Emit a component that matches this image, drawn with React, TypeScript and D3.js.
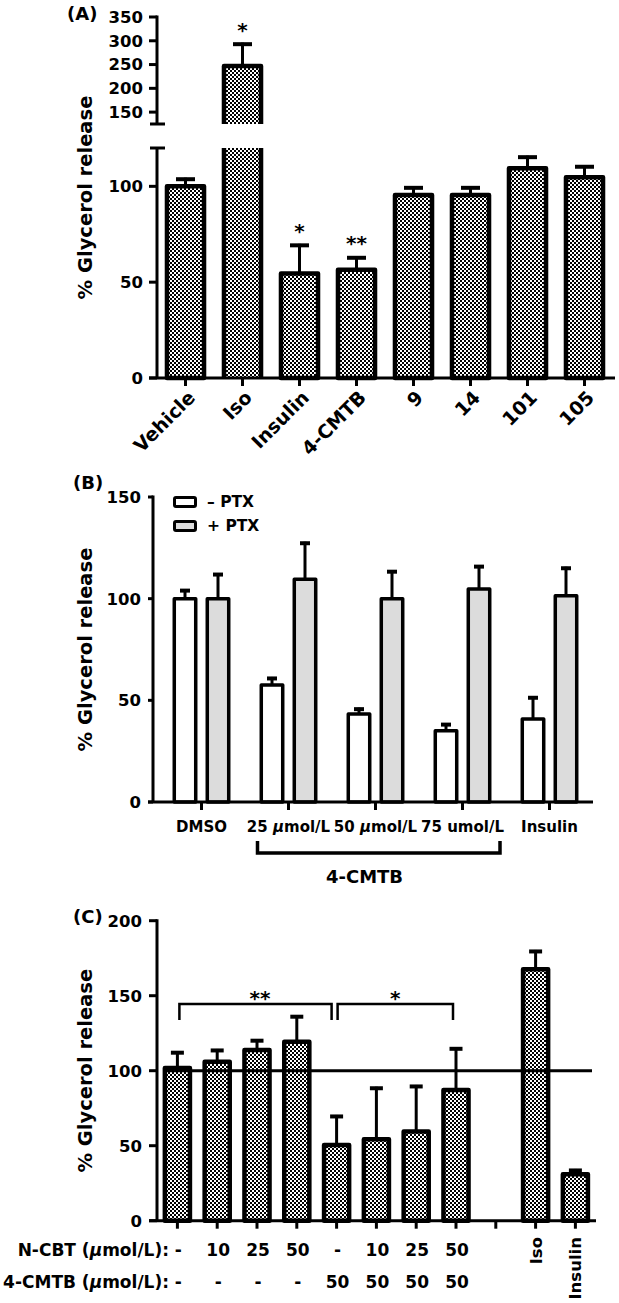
import * as d3 from "d3";

// ---- Panel A data ----
const catsA = ["Vehicle", "Iso", "Insulin", "4-CMTB", "9", "14", "101", "105"];
const meanA = [100, 247, 54.5, 56.5, 95.5, 95.5, 109.5, 104.7];
const semA = [4.5, 49, 15.5, 7, 4.5, 4.5, 6.5, 6.3];
const sigA = ["", "*", "*", "**", "", "", "", ""];
const ticksALow = [0, 50, 100];
const ticksAHigh = [150, 200, 250, 300, 350];

// ---- Panel B data ----
const groupsB = ["DMSO", "25 \u03bcmol/L", "50 \u03bcmol/L", "75 umol/L", "Insulin"];
const seriesB = ["\u2013 PTX", "+ PTX"];
const minusPTX = [100, 57.5, 43.3, 35, 40.8];
const minusErr = [4.7, 4, 3.1, 3.8, 11.2];
const plusPTX = [100, 109.6, 100, 104.7, 101.4];
const plusErr = [12.6, 18.4, 14, 11.8, 14.3];
const ticksB = [0, 50, 100, 150];

// ---- Panel C data ----
const slotsC = ["c1", "c2", "c3", "c4", "c5", "c6", "c7", "c8", "gap", "iso", "ins"];
const ncbtC = ["-", "10", "25", "50", "-", "10", "25", "50", "", "", ""];
const cmtbC = ["-", "-", "-", "-", "50", "50", "50", "50", "", "", ""];
const vertC = ["", "", "", "", "", "", "", "", "", "Iso", "Insulin"];
const meanC = [101.8, 106, 113.8, 119.3, 50.5, 54.3, 59.4, 87.1, null, 167.6, 30.9];
const semC = [11.2, 8.5, 7.2, 17.7, 20, 35, 31.1, 28.5, null, 12.9, 3.6];
const ticksC = [0, 50, 100, 150, 200];

const FONT = "'DejaVu Sans', Verdana, sans-serif";

const ErrBar = ({ x, y0, y1, w, sw = 3 }) => (
  <g stroke="#000">
    <line x1={x} x2={x} y1={y0} y2={y1} strokeWidth={sw} />
    <line x1={x - w / 2} x2={x + w / 2} y1={y1 + 1.5} y2={y1 + 1.5} strokeWidth={4} />
  </g>
);

const YLabel = ({ cy }) => (
  <text
    transform={`translate(92,${cy}) rotate(-90)`}
    textAnchor="middle"
    fontSize={19.5}
    fontWeight="bold"
  >
    % Glycerol release
  </text>
);

export default function App() {
  // Panel A scales (broken axis)
  const xA = d3.scaleBand().domain(catsA).range([157, 613]).paddingInner(0.35).paddingOuter(0.175);
  const yLo = d3.scaleLinear().domain([0, 120]).range([378, 148]);
  const yHi = d3.scaleLinear().domain([125, 350]).range([124, 17]);
  const bwA = xA.bandwidth();

  // Panel B scales
  const xB = d3.scaleBand().domain(groupsB).range([158, 593]);
  const xSub = d3.scaleBand().domain(seriesB).range([-33, 33]).paddingInner(0.35).paddingOuter(0.175);
  const yB = d3.scaleLinear().domain([0, 150]).range([802, 497]);
  const bwB = xSub.bandwidth();

  // Panel C scales
  const xC = d3.scaleBand().domain(slotsC).range([157.5, 595.3]).paddingInner(0.37).paddingOuter(0.185);
  const yC = d3.scaleLinear().domain([0, 200]).range([1220.7, 920.7]);
  const bwC = xC.bandwidth();
  const cC = (i) => xC(slotsC[i]) + bwC / 2;

  return (
    <svg
      width={619}
      height={1303}
      style={{ position: "absolute", left: 0, top: 0, background: "#fff" }}
      fontFamily={FONT}
    >
      <defs>
        <pattern id="chk" width={4} height={4} patternUnits="userSpaceOnUse">
          <rect width={4} height={4} fill="#fff" />
          <rect width={2} height={2} fill="#000" />
          <rect x={2} y={2} width={2} height={2} fill="#000" />
        </pattern>
      </defs>
      <rect width={619} height={1303} fill="#fff" />

      {/* ================= Panel A ================= */}
      <text x={67} y={20} fontSize={18} fontWeight="bold">(A)</text>
      <YLabel cy={197.5} />
      {catsA.map((c, i) => {
        const x0 = xA(c);
        const cx = x0 + bwA / 2;
        const v = meanA[i];
        const top = v + semA[i];
        if (v > 120) {
          const yt = yHi(v);
          return (
            <g key={c}>
              <rect x={x0} y={yLo(120)} width={bwA} height={yLo(0) - yLo(120)} fill="url(#chk)" />
              <path d={`M${x0},${yLo(120)}V${yLo(0)}M${x0 + bwA},${yLo(120)}V${yLo(0)}`} stroke="#000" strokeWidth={4.5} fill="none" />
              <rect x={x0} y={yt} width={bwA} height={yHi(125) - yt} fill="url(#chk)" />
              <path d={`M${x0},${yHi(125)}V${yt}H${x0 + bwA}V${yHi(125)}`} stroke="#000" strokeWidth={4.5} fill="none" strokeLinejoin="round" />
              <ErrBar x={cx} y0={yt} y1={yHi(top)} w={19} />
              <text x={cx} y={yHi(top) - 6} textAnchor="middle" fontSize={20} fontWeight="bold">{sigA[i]}</text>
            </g>
          );
        }
        return (
          <g key={c}>
            <ErrBar x={cx} y0={yLo(v)} y1={yLo(top)} w={19} />
            <rect x={x0} y={yLo(v)} width={bwA} height={yLo(0) - yLo(v)} fill="url(#chk)" stroke="#000" strokeWidth={4.5} strokeLinejoin="round" />
            {sigA[i] && (
              <text x={cx} y={yLo(top) - 6} textAnchor="middle" fontSize={20} fontWeight="bold">{sigA[i]}</text>
            )}
          </g>
        );
      })}
      {/* A axes */}
      <g stroke="#000" strokeWidth={3}>
        <line x1={157} x2={157} y1={yHi(350) - 1.5} y2={yHi(125)} />
        <line x1={150} x2={165} y1={yHi(125)} y2={yHi(125)} />
        <line x1={157} x2={157} y1={yLo(120)} y2={yLo(0)} />
        <line x1={150} x2={165} y1={yLo(120)} y2={yLo(120)} />
        <line x1={149} x2={615} y1={yLo(0)} y2={yLo(0)} />
        {ticksAHigh.map((t) => (
          <line key={"h" + t} x1={149} x2={157} y1={yHi(t)} y2={yHi(t)} />
        ))}
        {ticksALow.map((t) => (
          <line key={"l" + t} x1={149} x2={157} y1={yLo(t)} y2={yLo(t)} />
        ))}
        {catsA.map((c) => (
          <line key={c} x1={xA(c) + bwA / 2} x2={xA(c) + bwA / 2} y1={yLo(0)} y2={yLo(0) + 8} />
        ))}
      </g>
      <g fontSize={16.5} fontWeight="bold" textAnchor="end">
        {ticksAHigh.map((t) => (
          <text key={t} x={143} y={yHi(t)} dy="0.36em">{t}</text>
        ))}
        {ticksALow.map((t) => (
          <text key={t} x={143} y={yLo(t)} dy="0.36em">{t}</text>
        ))}
      </g>
      <g fontSize={19} fontWeight="bold">
        {catsA.map((c) => (
          <text
            key={c}
            transform={`translate(${xA(c) + bwA / 2 + 6},${yLo(0) + 16}) rotate(-45)`}
            textAnchor="end"
            dy="0.36em"
          >
            {c}
          </text>
        ))}
      </g>

      {/* ================= Panel B ================= */}
      <text x={73} y={489} fontSize={18} fontWeight="bold">(B)</text>
      <YLabel cy={649.5} />
      {groupsB.map((g, i) => {
        const gc = xB(g) + xB.bandwidth() / 2;
        const vals = [minusPTX[i], plusPTX[i]];
        const errs = [minusErr[i], plusErr[i]];
        return (
          <g key={g}>
            {seriesB.map((s, j) => {
              const x0 = gc + xSub(s);
              const cx = x0 + bwB / 2;
              return (
                <g key={s}>
                  <ErrBar x={cx} y0={yB(vals[j])} y1={yB(vals[j] + errs[j])} w={10} />
                  <rect
                    x={x0}
                    y={yB(vals[j])}
                    width={bwB}
                    height={yB(0) - yB(vals[j])}
                    fill={j === 0 ? "#fff" : "#dcdcdc"}
                    stroke="#000"
                    strokeWidth={3.5}
                    strokeLinejoin="round"
                  />
                </g>
              );
            })}
          </g>
        );
      })}
      <g stroke="#000" strokeWidth={3}>
        <line x1={153} x2={153} y1={yB(150) - 1.5} y2={yB(0)} />
        <line x1={148} x2={593} y1={yB(0)} y2={yB(0)} />
        {ticksB.map((t) => (
          <line key={t} x1={148} x2={153} y1={yB(t)} y2={yB(t)} />
        ))}
        {groupsB.map((g) => (
          <line key={g} x1={xB(g) + xB.bandwidth() / 2} x2={xB(g) + xB.bandwidth() / 2} y1={yB(0)} y2={yB(0) + 8} />
        ))}
      </g>
      <g fontSize={16.5} fontWeight="bold" textAnchor="end">
        {ticksB.map((t) => (
          <text key={t} x={141} y={yB(t)} dy="0.36em">{t}</text>
        ))}
      </g>
      <g fontSize={15} fontWeight="bold" textAnchor="middle">
        {groupsB.map((g) => {
          const cx = xB(g) + xB.bandwidth() / 2;
          const parts = g.split("\u03bc");
          return (
            <text key={g} x={cx} y={832}>
              {parts.length > 1 ? (
                <>
                  {parts[0]}
                  <tspan fontStyle="italic">{"\u03bc"}</tspan>
                  {parts[1]}
                </>
              ) : (
                g
              )}
            </text>
          );
        })}
      </g>
      {/* B bracket */}
      <path
        d={`M${xB(groupsB[1]) + 12.5},841V853H${xB(groupsB[3]) + xB.bandwidth() - 6}V841`}
        fill="none"
        stroke="#000"
        strokeWidth={3.5}
      />
      <text x={xB(groupsB[2]) + xB.bandwidth() / 2 - 11} y={883} textAnchor="middle" fontSize={18} fontWeight="bold">
        4-CMTB
      </text>
      {/* B legend */}
      {seriesB.map((s, j) => (
        <g key={s}>
          <rect x={174.5} y={497.5 + j * 24} width={21} height={9} rx={1.5} fill={j === 0 ? "#fff" : "#dcdcdc"} stroke="#000" strokeWidth={3} />
          <text x={207} y={507 + j * 24} fontSize={15.5} fontWeight="bold">{s}</text>
        </g>
      ))}

      {/* ================= Panel C ================= */}
      <text x={73} y={923} fontSize={18} fontWeight="bold">(C)</text>
      <YLabel cy={1070.7} />
      {slotsC.map((s, i) => {
        const v = meanC[i];
        if (v == null) return null;
        const x0 = xC(s);
        const cx = x0 + bwC / 2;
        return (
          <g key={s}>
            <ErrBar x={cx} y0={yC(v)} y1={yC(v + semC[i])} w={13} />
            <rect x={x0} y={yC(v)} width={bwC} height={yC(0) - yC(v)} fill="url(#chk)" stroke="#000" strokeWidth={4.5} strokeLinejoin="round" />
          </g>
        );
      })}
      <line x1={165} x2={592} y1={yC(100)} y2={yC(100)} stroke="#000" strokeWidth={3} />
      {/* significance brackets */}
      <g fill="none" stroke="#000" strokeWidth={2.5}>
        <path d={`M${cC(0) + 2},1020V1004H${cC(4) - 5}V1020`} />
        <path d={`M${cC(4) + 1},1020V1004H${cC(7) - 3}V1020`} />
      </g>
      <g fontSize={20} fontWeight="bold" textAnchor="middle">
        <text x={(cC(0) + cC(4)) / 2 + 3} y={1005}>**</text>
        <text x={(cC(4) + cC(7)) / 2 - 1} y={1005}>*</text>
      </g>
      <g stroke="#000" strokeWidth={3}>
        <line x1={157} x2={157} y1={yC(200) - 1.5} y2={yC(0)} />
        <line x1={149} x2={596} y1={yC(0)} y2={yC(0)} />
        {ticksC.map((t) => (
          <line key={t} x1={149} x2={157} y1={yC(t)} y2={yC(t)} />
        ))}
        {slotsC.map((s, i) => (
          <line key={s} x1={cC(i)} x2={cC(i)} y1={yC(0)} y2={yC(0) + 8} />
        ))}
      </g>
      <g fontSize={16.5} fontWeight="bold" textAnchor="end">
        {ticksC.map((t) => (
          <text key={t} x={142} y={yC(t)} dy="0.36em">{t}</text>
        ))}
      </g>
      <g fontSize={17} fontWeight="bold">
        <text x={169} y={1256} textAnchor="end">
          N-CBT (<tspan fontStyle="italic">{"\u03bc"}</tspan>mol/L):
        </text>
        <text x={169} y={1288} textAnchor="end">
          4-CMTB (<tspan fontStyle="italic">{"\u03bc"}</tspan>mol/L):
        </text>
        {slotsC.map((s, i) => (
          <g key={s} textAnchor="middle">
            {ncbtC[i] && <text x={cC(i) + 1} y={1256}>{ncbtC[i]}</text>}
            {cmtbC[i] && <text x={cC(i) + 1} y={1288}>{cmtbC[i]}</text>}
          </g>
        ))}
      </g>
      <g fontSize={16.5} fontWeight="bold" textAnchor="end">
        {slotsC.map((s, i) =>
          vertC[i] ? (
            <text key={s} transform={`translate(${cC(i) + 6},1237) rotate(-90)`}>{vertC[i]}</text>
          ) : null
        )}
      </g>
    </svg>
  );
}
